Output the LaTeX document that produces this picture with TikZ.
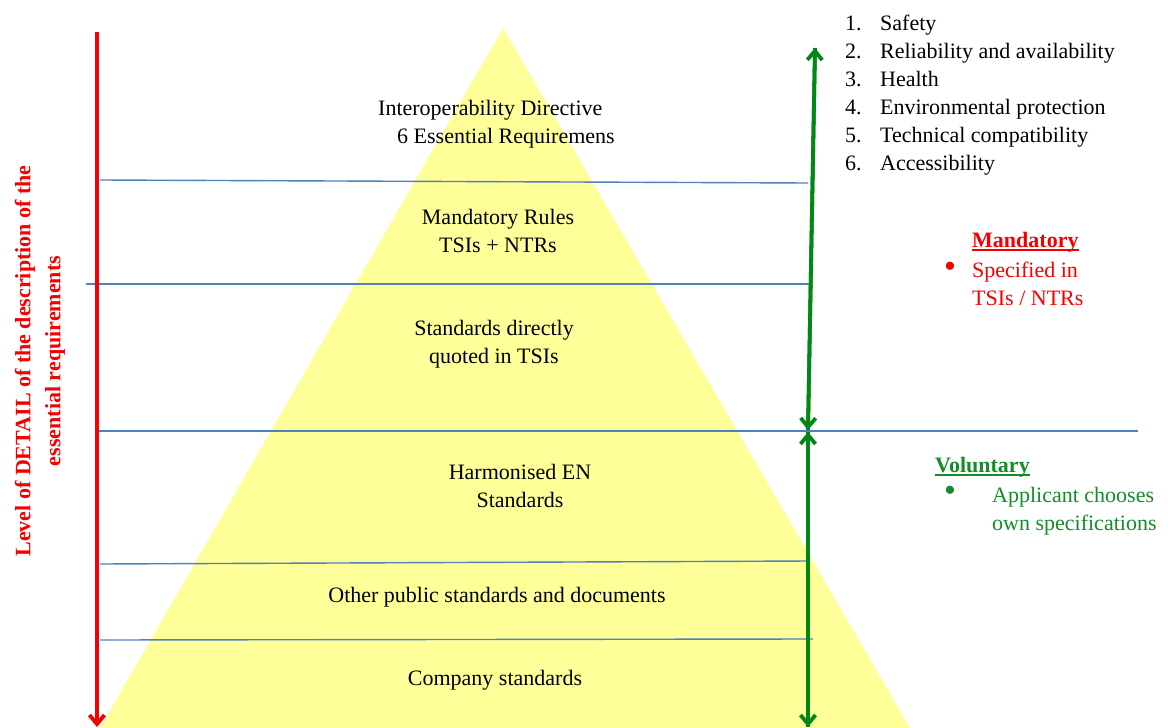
\documentclass[tikz,border=0pt]{standalone}
\usepackage{fontspec}
\setmainfont{Liberation Serif}
\usetikzlibrary{arrows.meta}
\definecolor{pyryellow}{RGB}{255,255,153}
\definecolor{levelblue}{RGB}{79,129,189}
\definecolor{detailred}{RGB}{245,0,0}
\definecolor{volgreen}{RGB}{0,135,20}
\definecolor{txtgreen}{RGB}{20,140,40}
\begin{document}
\begin{tikzpicture}[x=1pt,y=-1pt,
    every node/.style={inner sep=0pt,font=\fontsize{22}{28}\selectfont},
    level/.style={draw=levelblue,line width=1.4pt},
    barb/.style={line width=3.8pt,-{Straight Barb[length=9pt,width=15pt,line width=3.8pt]}},
    layer/.style={align=center},
    rednote/.style={text=detailred},
    greennote/.style={text=txtgreen},
    dot/.style={font=\fontsize{34}{34}\selectfont}]
  \useasboundingbox (0,0) rectangle (1168,728);
  \fill[pyryellow] (503,28) -- (100,728) -- (910,728) -- cycle;

  \coordinate (l1w) at (100,180);  \coordinate (l1e) at (808,183);
  \coordinate (l2w) at (86,284);   \coordinate (l2e) at (812,284);
  \coordinate (l3w) at (95,431);   \coordinate (l3e) at (1138,431);
  \coordinate (l4w) at (100,564);  \coordinate (l4e) at (810,561);
  \coordinate (l5w) at (100,640);  \coordinate (l5e) at (813,639);
  \begin{scope}[level]
    \draw (l1w) -- (l1e);
    \draw (l2w) -- (l2e);
    \draw (l3w) -- (l3e);
    \draw (l4w) -- (l4e);
    \draw (l5w) -- (l5e);
  \end{scope}

  \coordinate (rtop) at (97,32);
  \coordinate (rbot) at (97,727);
  \draw[barb,detailred] (rtop) -- (rbot);

  \coordinate (gtop) at (815,48);
  \coordinate (gmida) at (808,430);
  \coordinate (gmidb) at (808,432);
  \coordinate (gbot) at (808,727);
  \begin{scope}[volgreen]
    \draw[barb] (gmida) -- (gtop);
    \draw[barb] (gtop) -- (gmida);
    \draw[barb] (gbot) -- (gmidb);
    \draw[barb] (gmidb) -- (gbot);
  \end{scope}

  \node[rotate=90,align=center,text=detailred,font=\bfseries\fontsize{22}{30}\selectfont] (detail) at (40,361)
    {Level of DETAIL of the description of the\\essential requirements};

  \node[anchor=north west,align=left] (directive) at (378,100)
    {Interoperability Directive\\\hspace{19pt}6 Essential Requiremens};
  \node[layer] (rules) at (498,231) {Mandatory Rules\\TSIs + NTRs};
  \node[layer] (quoted) at (494,344) {Standards directly\\quoted in TSIs};
  \node[layer] (harmon) at (520,486) {Harmonised EN\\Standards};
  \node[layer] (public) at (497,597) {Other public standards and documents};
  \node[layer] (company) at (495,680) {Company standards};

  \node[anchor=north west,align=left] (ereqs) at (845,15)
    {\makebox[35pt][l]{1.}Safety\\
     \makebox[35pt][l]{2.}Reliability and availability\\
     \makebox[35pt][l]{3.}Health\\
     \makebox[35pt][l]{4.}Environmental protection\\
     \makebox[35pt][l]{5.}Technical compatibility\\
     \makebox[35pt][l]{6.}Accessibility};

  \node[rednote,anchor=base west,font=\bfseries\fontsize{22}{28}\selectfont] (mand) at (972,247) {Mandatory};
  \draw[detailred,line width=1.2pt] ([yshift=-3pt]mand.base west) -- ([yshift=-3pt]mand.base east);
  \node[rednote,dot] (mbullet) at (950,270) {\textbullet};
  \node[rednote,anchor=north west,align=left] (mspec) at (972,262) {Specified in\\TSIs / NTRs};

  \node[greennote,anchor=base west,font=\bfseries\fontsize{22}{28}\selectfont] (vol) at (935,472) {Voluntary};
  \draw[txtgreen,line width=1.2pt] ([yshift=-3pt]vol.base west) -- ([yshift=-3pt]vol.base east);
  \node[greennote,dot] (vbullet) at (950,494) {\textbullet};
  \node[greennote,anchor=north west,align=left] (vspec) at (992,487) {Applicant chooses\\own specifications};
\end{tikzpicture}
\end{document}
